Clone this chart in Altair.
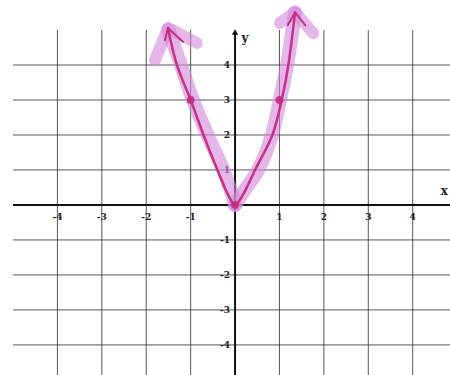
import altair as alt
import pandas as pd

# Grid / tick values
x_ticks = [-4, -3, -2, -1, 1, 2, 3, 4]
y_ticks = [-4, -3, -2, -1, 1, 2, 3, 4]
grid_x = [-4, -3, -2, -1, 1, 2, 3, 4]
grid_y = [-4, -3, -2, -1, 1, 2, 3, 4]

X_DOM = [-5.0, 4.84]
Y_DOM = [-4.86, 5.0]
W, H = 437, 345

# Hand-drawn pen curve (parabola through the plotted points)
pen_x = [-1.51, -1.31, -1.0, -0.68, -0.38, -0.16, 0.0, 0.18, 0.45, 0.84, 1.05, 1.2, 1.35]
pen_y = [5.06, 4.0, 3.0, 1.9, 0.95, 0.3, 0.0, 0.3, 1.0, 2.0, 3.0, 4.0, 5.49]

# Plotted points
pt_x = [-1, 0, 1]
pt_y = [3, 0, 3]

# Pen arrowheads
pen_head_l_x = [-1.58, -1.51, -1.17]
pen_head_l_y = [4.71, 5.06, 4.66]
pen_head_r_x = [1.19, 1.35, 1.58]
pen_head_r_y = [5.14, 5.51, 5.14]

# Highlighter strokes
hl_left_x = [-1.5, -1.22, -0.95, -0.62, -0.3, -0.08, 0.0]
hl_left_y = [5.0, 4.0, 3.0, 2.0, 1.1, 0.35, 0.0]
hl_right_x = [0.0, 0.2, 0.52, 0.83, 1.01, 1.17, 1.35]
hl_right_y = [0.0, 0.4, 1.0, 2.0, 3.0, 4.0, 5.5]
hl_head_l_x = [-1.8, -1.51, -0.86]
hl_head_l_y = [4.14, 5.06, 4.63]
hl_head_r_x = [1.01, 1.35, 1.76]
hl_head_r_y = [5.2, 5.51, 4.91]

PEN = "#c42a7c"
HL = "#d486dc"

xs = alt.Scale(domain=X_DOM, nice=False, zero=False)
ys = alt.Scale(domain=Y_DOM, nice=False, zero=False)


def X(field="x"):
    return alt.X(f"{field}:Q", scale=xs, axis=None)


def Y(field="y"):
    return alt.Y(f"{field}:Q", scale=ys, axis=None)


def path(xv, yv, color, width, opacity=1.0, interp="linear"):
    df = pd.DataFrame({"x": xv, "y": yv, "o": list(range(len(xv)))})
    return alt.Chart(df).mark_line(
        color=color, strokeWidth=width, opacity=opacity,
        strokeCap="round", strokeJoin="round", interpolate=interp
    ).encode(x=X(), y=Y(), order="o:Q")


vgrid = alt.Chart(pd.DataFrame({"x": grid_x, "y1": [Y_DOM[0]] * len(grid_x), "y2": [Y_DOM[1]] * len(grid_x)})).mark_rule(
    color="#3a3a3a", strokeWidth=1, opacity=0.85
).encode(x=X(), y=Y("y1"), y2="y2:Q")

hgrid = alt.Chart(pd.DataFrame({"y": grid_y, "x1": [X_DOM[0]] * len(grid_y), "x2": [X_DOM[1]] * len(grid_y)})).mark_rule(
    color="#3a3a3a", strokeWidth=1, opacity=0.85
).encode(y=Y(), x=X("x1"), x2="x2:Q")

x_axis = alt.Chart(pd.DataFrame({"y": [0], "x1": [X_DOM[0]], "x2": [X_DOM[1]]})).mark_rule(
    color="#111", strokeWidth=2
).encode(y=Y(), x=X("x1"), x2="x2:Q")

y_axis = alt.Chart(pd.DataFrame({"x": [0], "y1": [Y_DOM[0]], "y2": [4.94]})).mark_rule(
    color="#111", strokeWidth=2
).encode(x=X(), y=Y("y1"), y2="y2:Q")

y_arrow = alt.Chart(pd.DataFrame({"x": [0], "y": [4.94]})).mark_point(
    shape="triangle-up", filled=True, color="#111", size=40, opacity=1
).encode(x=X(), y=Y())

font = "DejaVu Serif"

x_labels = alt.Chart(pd.DataFrame({"x": x_ticks, "y": [0] * len(x_ticks), "t": [str(v) for v in x_ticks]})).mark_text(
    font=font, fontSize=9, fontWeight="bold", color="#222", dy=12, align="center"
).encode(x=X(), y=Y(), text="t:N")

y_labels = alt.Chart(pd.DataFrame({"y": y_ticks, "x": [0] * len(y_ticks), "t": [str(v) for v in y_ticks]})).mark_text(
    font=font, fontSize=9, fontWeight="bold", color="#222", dx=-5, align="right", baseline="middle"
).encode(x=X(), y=Y(), text="t:N")

y_name = alt.Chart(pd.DataFrame({"x": [0], "y": [4.94], "t": ["y"]})).mark_text(
    font=font, fontSize=12, fontWeight="bold", color="#222", dx=10, dy=6, align="center"
).encode(x=X(), y=Y(), text="t:N")

x_name = alt.Chart(pd.DataFrame({"x": [X_DOM[1]], "y": [0], "t": ["x"]})).mark_text(
    font=font, fontSize=12, fontWeight="bold", color="#222", dx=-2, dy=-14, align="right"
).encode(x=X(), y=Y(), text="t:N")

points = alt.Chart(pd.DataFrame({"x": pt_x, "y": pt_y})).mark_circle(
    color=PEN, size=60, opacity=0.9
).encode(x=X(), y=Y())

chart = alt.layer(
    vgrid, hgrid, x_axis, y_axis, y_arrow,
    x_labels, y_labels, y_name, x_name,
    path(hl_left_x, hl_left_y, HL, 14, 0.6, "catmull-rom"),
    path(hl_right_x, hl_right_y, HL, 14, 0.6, "catmull-rom"),
    path(hl_head_l_x, hl_head_l_y, HL, 12, 0.6),
    path(hl_head_r_x, hl_head_r_y, HL, 12, 0.6),
    path(pen_x, pen_y, PEN, 2.5, 0.95, "catmull-rom"),
    path(pen_head_l_x, pen_head_l_y, PEN, 2, 0.95),
    path(pen_head_r_x, pen_head_r_y, PEN, 2, 0.95),
    points,
).properties(
    width=W, height=H,
    autosize=alt.AutoSizeParams(type="none"),
    padding={"left": 13, "top": 30, "right": 0, "bottom": 0},
    background="white",
).configure_view(stroke=None)

chart.save("out.html", embed_options={"renderer": "svg", "actions": False})
